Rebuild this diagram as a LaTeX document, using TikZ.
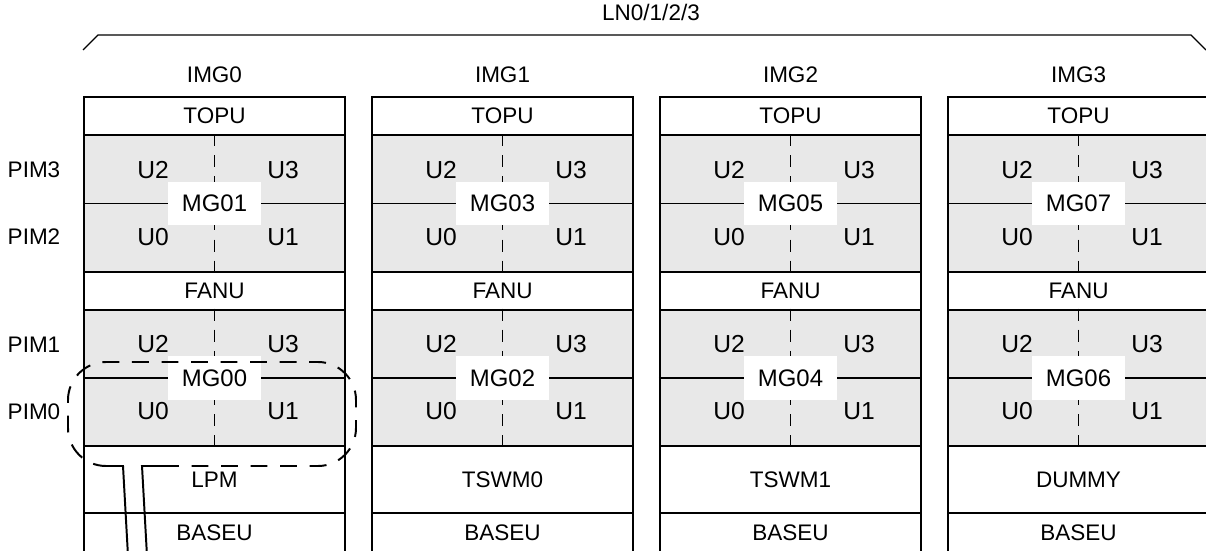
\documentclass[tikz,border=0pt]{standalone}
\usepackage{fontspec}
\setmainfont{Liberation Sans}
\definecolor{unitgray}{RGB}{232,232,232}

\begin{document}
\begin{tikzpicture}[x=0.025cm,y=-0.025cm,font=\fontsize{16}{19}\selectfont,
    unitbox/.style={draw,line width=0.9pt,minimum width=6.525cm,inner sep=0pt},
    groupbox/.style={draw,line width=1.4pt,fill=unitgray,minimum width=6.525cm,
      minimum height=3.42cm,inner sep=0pt},
    grouplabel/.style={fill=white,minimum width=2.3cm,minimum height=1.075cm,
      inner sep=0pt,font=\fontsize{17}{20}\selectfont},
    unitlabel/.style={font=\fontsize{17.5}{20}\selectfont},
    mgline/.style={line width=1.4pt,dash pattern=on 12pt off 9pt}]
    \clip (0,0) rectangle (1206,551);

    \node (ln) at (651,12) {LN0/1/2/3};
    \coordinate (lnl) at (83,50);
    \coordinate (lnr) at (1206,50);
    \draw[line width=0.8pt] (lnl) -- (98,35) -- (1191,35) -- (lnr);

    \node (pim3) at (34,170) {PIM3};
    \node (pim2) at (34,237) {PIM2};
    \node (pim1) at (34,345) {PIM1};
    \node (pim0) at (34,412) {PIM0};

    \foreach \i/\hi/\lo/\mid in {0/MG01/MG00/LPM,1/MG03/MG02/TSWM0,
        2/MG05/MG04/TSWM1,3/MG07/MG06/DUMMY}{
      \pgfmathsetmacro\cx{214.5+288*\i}
      \node (img\i) at (\cx,75) {IMG\i};
      \node[unitbox,minimum height=0.95cm] (topu\i) at (\cx,116) {TOPU};
      \node[unitbox,minimum height=0.95cm] (fanu\i) at (\cx,291) {FANU};
      \node[unitbox,minimum height=1.675cm] (mid\i) at (\cx,479.5) {\mid};
      \node[unitbox,minimum height=1cm] (baseu\i) at (\cx,533) {BASEU};
      \foreach \g/\y/\name in {u/203.5/\hi,l/378/\lo}{
        \node[groupbox] (g\g\i) at (\cx,\y) {};
        \draw[line width=1.1pt] (g\g\i.west) -- (g\g\i.east);
        \draw[line width=1.2pt,dash pattern=on 8.5pt off 6.5pt]
          (g\g\i.north) -- (g\g\i.south);
        \node[grouplabel] (mg\g\i) at (g\g\i) {\name};
        \node[unitlabel] (utwo\g\i) at (\cx-61.5,\y-33.5) {U2};
        \node[unitlabel] (uthree\g\i) at (\cx+68.5,\y-33.5) {U3};
        \node[unitlabel] (uzero\g\i) at (\cx-61.5,\y+33.5) {U0};
        \node[unitlabel] (uone\g\i) at (\cx+68.5,\y+33.5) {U1};
      }
    }

    % MG00 outline and its lead
    \draw[mgline,rounded corners=0.95cm] (162,466) -| (356,362) -| (68,466)
      -- (105,466);
    \draw[line width=1.4pt] (105,466) -- (123,466) -- (128,556);
    \draw[line width=1.4pt] (162,466) -- (142,466) -- (147,556);
  \end{tikzpicture}
\end{document}
